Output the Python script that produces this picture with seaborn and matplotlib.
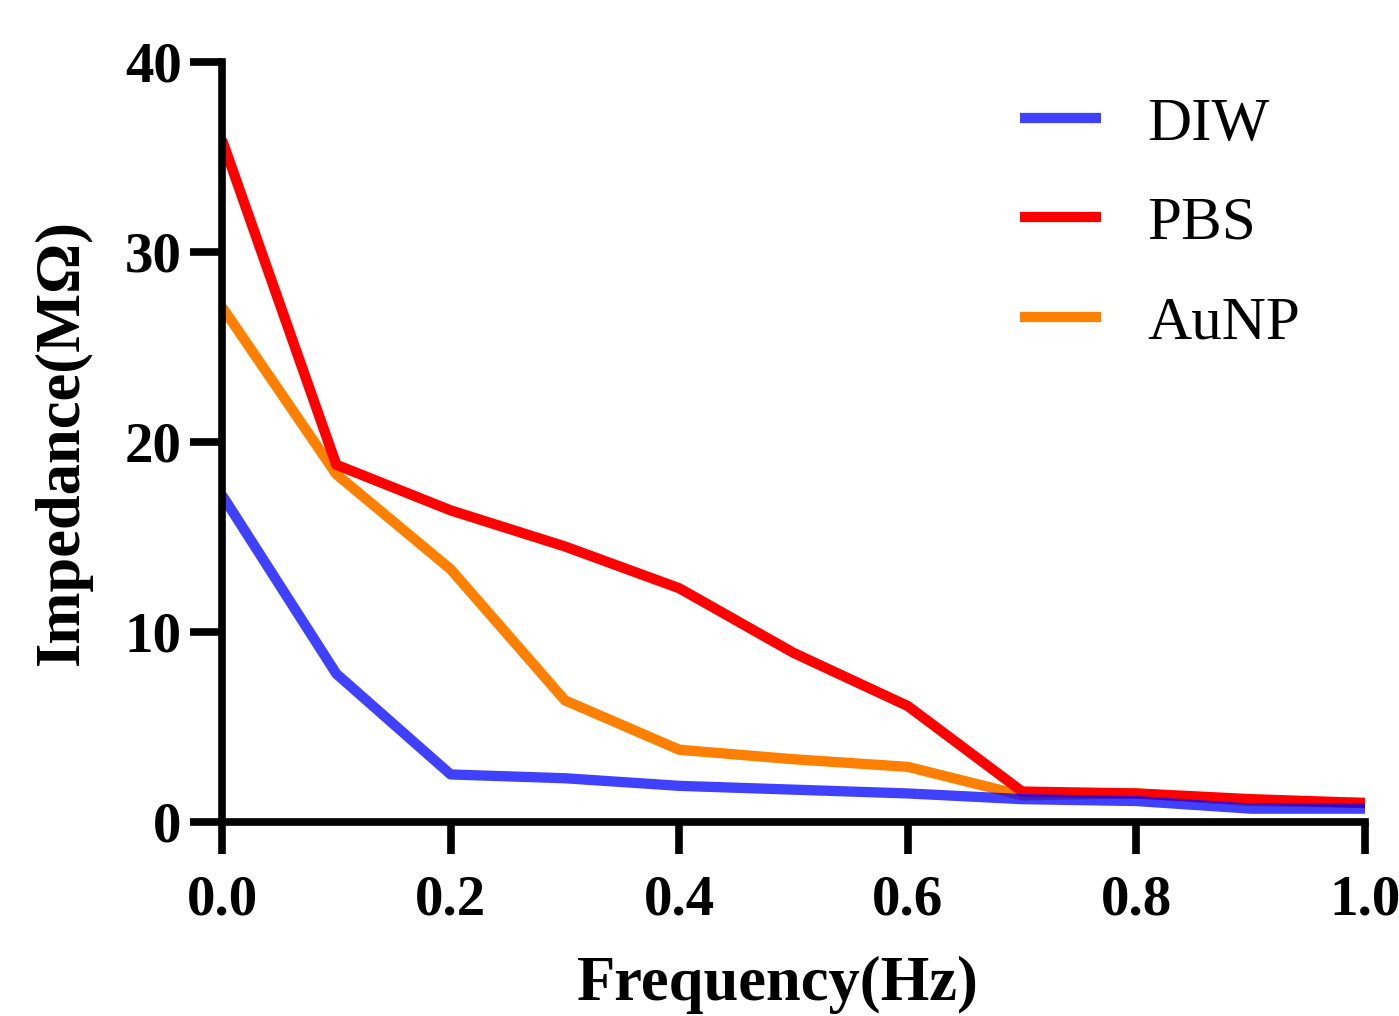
import pandas as pd
import seaborn as sns
import matplotlib.pyplot as plt

# --- data ---
freq = [0.0, 0.1, 0.2, 0.3, 0.4, 0.5, 0.6, 0.7, 0.8, 0.9, 1.0]
diw = [17.2, 7.8, 2.5, 2.3, 1.9, 1.7, 1.5, 1.2, 1.1, 0.7, 0.7]
pbs = [35.9, 18.8, 16.4, 14.5, 12.3, 8.9, 6.1, 1.6, 1.5, 1.2, 1.0]
aunp = [27.1, 18.3, 13.3, 6.4, 3.8, 3.3, 2.9, 1.4, 1.5, 1.1, 1.0]

series_names = ["DIW", "PBS", "AuNP"]
colors = {"DIW": (0, 0, 1, 0.75), "PBS": "#FF0000", "AuNP": "#FF8000"}
x_ticks = [0.0, 0.2, 0.4, 0.6, 0.8, 1.0]
y_ticks = [0, 10, 20, 30, 40]

df = pd.DataFrame({"Frequency": freq * 3,
                   "Impedance": diw + pbs + aunp,
                   "Sample": ["DIW"] * 11 + ["PBS"] * 11 + ["AuNP"] * 11})

sns.set_style("ticks", {"axes.edgecolor": "black", "xtick.color": "black",
                        "ytick.color": "black", "text.color": "black",
                        "axes.labelcolor": "black"})
plt.rcParams["font.family"] = ["Liberation Serif", "DejaVu Serif"]

fig = plt.figure(figsize=(13.99, 10.16), dpi=100)
ax = fig.add_axes([0.1587, 0.191, 0.817, 0.748])

# draw order: orange under red, blue (semi-transparent) on top
for name in ["AuNP", "PBS", "DIW"]:
    sub = df[df["Sample"] == name]
    sns.lineplot(data=sub, x="Frequency", y="Impedance", color=colors[name],
                 linewidth=7.4, ax=ax, label=name, solid_capstyle="butt")

ax.set_xlim(0, 1.0)
ax.set_ylim(0, 40)
ax.set_xticks(x_ticks)
ax.set_xticklabels([f"{v:.1f}" for v in x_ticks])
ax.set_yticks(y_ticks)
ax.tick_params(axis="both", length=23, width=5.5, labelsize=41)
ax.tick_params(axis="x", pad=15)
ax.tick_params(axis="y", pad=6)
for lbl in ax.get_xticklabels() + ax.get_yticklabels():
    lbl.set_fontweight("bold")

ax.set_xlabel("Frequency(Hz)", fontsize=45, fontweight="bold")
ax.set_ylabel("Impedance(MΩ)", fontsize=45, fontweight="bold")
ax.xaxis.set_label_coords(0.486, -0.176)
ax.yaxis.set_label_coords(-0.114, 0.5)

sns.despine(ax=ax)
for side in ["left", "bottom"]:
    ax.spines[side].set_linewidth(5.5)
    ax.spines[side].set_clip_on(False)

handles, labels = ax.get_legend_handles_labels()
order = [labels.index(n) for n in series_names]
leg = ax.legend([handles[i] for i in order], series_names, loc="upper left",
                frameon=False, fontsize=44, handlelength=1.33, handletextpad=0.75,
                labelspacing=0.71, borderpad=0, borderaxespad=0,
                bbox_to_anchor=(0.698, 0.954))

fig.savefig("out.png", dpi=100)
